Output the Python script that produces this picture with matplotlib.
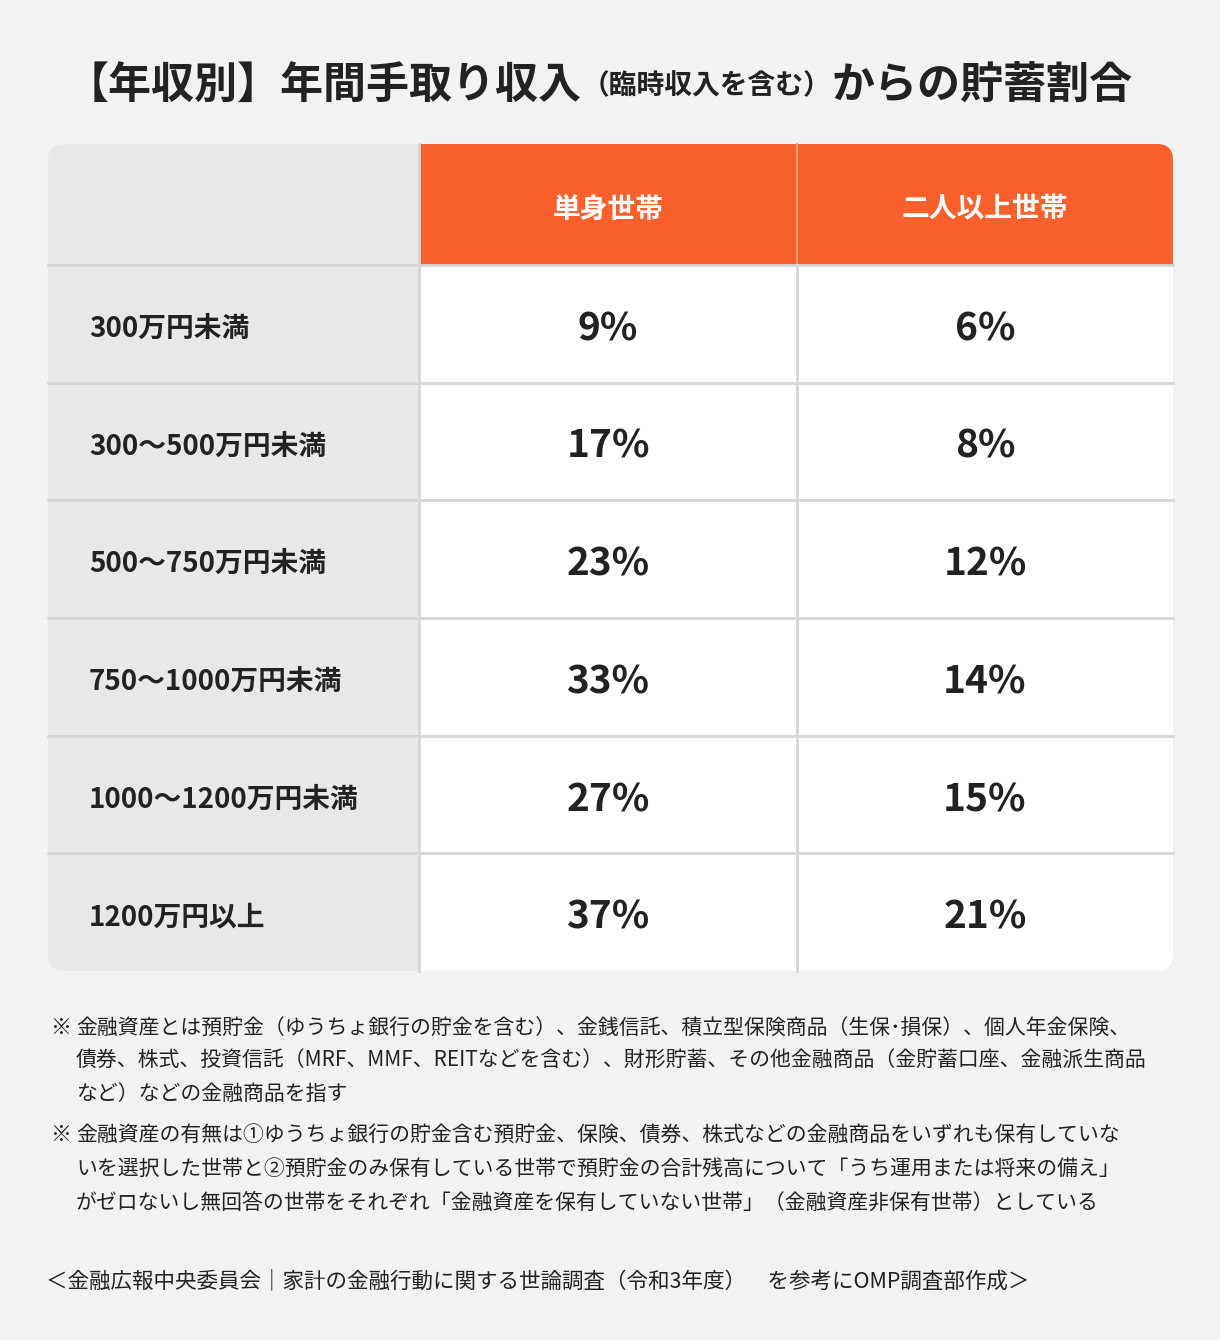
import matplotlib
matplotlib.use("Agg")
import matplotlib.pyplot as plt
from matplotlib.patches import Rectangle, FancyBboxPatch

FONT = "Noto Sans CJK JP"
plt.rcParams["font.family"] = FONT

title_parts = ["【年収別】年間手取り収入", "（臨時収入を含む）", "からの貯蓄割合"]
columns = ["単身世帯", "二人以上世帯"]
categories = ["300万円未満", "300〜500万円未満", "500〜750万円未満", "750〜1000万円未満",
              "1000〜1200万円未満", "1200万円以上"]
single = [9, 17, 23, 33, 27, 37]
multi = [6, 8, 12, 14, 15, 21]
notes = [
    ("※", "金融資産とは預貯金（ゆうちょ銀行の貯金を含む）、金銭信託、積立型保険商品（生保･損保）、個人年金保険、"),
    ("", "債券、株式、投資信託（MRF、MMF、REITなどを含む）、財形貯蓄、その他金融商品（金貯蓄口座、金融派生商品"),
    ("", "など）などの金融商品を指す"),
    ("※", "金融資産の有無は①ゆうちょ銀行の貯金含む預貯金、保険、債券、株式などの金融商品をいずれも保有していな"),
    ("", "いを選択した世帯と②預貯金のみ保有している世帯で預貯金の合計残高について「うち運用または将来の備え」"),
    ("", "がゼロないし無回答の世帯をそれぞれ「金融資産を保有していない世帯」（金融資産非保有世帯）としている"),
]
source = "＜金融広報中央委員会｜家計の金融行動に関する世論調査（令和3年度）　を参考にOMP調査部作成＞"

W, H = 1220, 1340
fig = plt.figure(figsize=(W / 100, H / 100), dpi=100, facecolor="#f2f2f2")
ax = fig.add_axes([0, 0, 1, 1])
ax.set_xlim(0, W); ax.set_ylim(H, 0); ax.axis("off")

fig.canvas.draw()
r = fig.canvas.get_renderer()
sizes = [31, 20, 31]
x = 66
for part, s in zip(title_parts, sizes):
    t = ax.text(x, 86, part, fontsize=s, fontweight="bold", color="#222222", va="center", ha="left")
    bb = t.get_window_extent(r)
    x += bb.width

x0, x1, x2, x3 = 48, 419, 797, 1173
y_top, y_head = 144, 265
row_h = (971 - 265) / len(categories)
clip = FancyBboxPatch((x0, y_top), x3 - x0, 971 - y_top, boxstyle="round,pad=0,rounding_size=16",
                      facecolor="white", edgecolor="none")
ax.add_patch(clip)

def rect(x, y, w, h, c):
    p = Rectangle((x, y), w, h, facecolor=c, edgecolor="none")
    ax.add_patch(p); p.set_clip_path(clip)

rect(x0, y_top, x1 - x0, 971 - y_top, "#e8e8e8")
rect(x1, y_top, x3 - x1, y_head - y_top, "#f9602c")
off = 5
for i, c in enumerate(columns):
    cx = [(x1 + x2) / 2, (x2 + x3) / 2][i]
    ax.text(cx, (y_top + y_head) / 2 + off, c, fontsize=20, fontweight="bold", color="white", ha="center", va="center")
line = "#d6d6d6"
ax.plot([x2, x2], [y_top, y_head], color="#f7a283", lw=1.5)
ax.plot([x1, x1], [y_top, 971], color=line, lw=2)
ax.plot([x2, x2], [y_head, 971], color=line, lw=2)
ax.plot([x0, x3], [y_head, y_head], color=line, lw=2)
for i, cat in enumerate(categories):
    yc = y_head + row_h * (i + 0.5)
    if i > 0:
        ax.plot([x0, x3], [y_head + row_h * i] * 2, color=line, lw=2)
    ax.text(89, yc + off, cat, fontsize=20, fontweight="bold", color="#222222", ha="left", va="center")
    ax.text((x1 + x2) / 2, yc + off, f"{single[i]}%", fontsize=28, fontweight="bold", color="#222222", ha="center", va="center")
    ax.text((x2 + x3) / 2, yc + off, f"{multi[i]}%", fontsize=28, fontweight="bold", color="#222222", ha="center", va="center")

ys = [1025, 1058, 1091, 1132, 1166, 1200]
for (m, txt), y in zip(notes, ys):
    if m:
        ax.text(50, y + 3, m, fontsize=15, color="#222222", ha="left", va="center")
    ax.text(76, y + 3, txt, fontsize=15, color="#222222", ha="left", va="center")
ax.text(46, 1281, source, fontsize=15.5, color="#222222", ha="left", va="center")

fig.savefig("out.png", dpi=100, facecolor=fig.get_facecolor())
